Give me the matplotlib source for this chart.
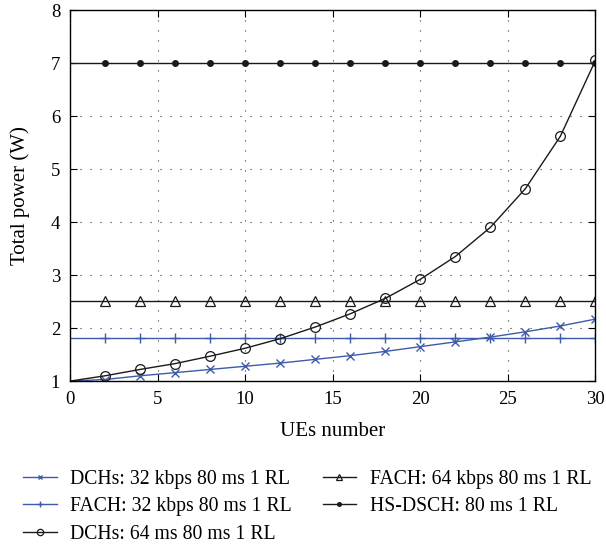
import matplotlib
matplotlib.use("Agg")
import matplotlib.pyplot as plt
import numpy as np

plt.rcParams['font.family'] = ['Liberation Serif', 'DejaVu Serif']

ues = [0, 2, 4, 6, 8, 10, 12, 14, 16, 18, 20, 22, 24, 26, 28, 30]
dch_32 = [1.0, 1.03, 1.10, 1.16, 1.22, 1.28, 1.34, 1.41, 1.48, 1.56, 1.65, 1.74, 1.83, 1.93, 2.04, 2.17]
fach_32 = [1.81] * 16
dch_64 = [1.0, 1.10, 1.22, 1.33, 1.47, 1.62, 1.80, 2.02, 2.27, 2.56, 2.92, 3.35, 3.90, 4.63, 5.62, 7.05]
fach_64 = [2.51] * 16
hsdsch = [7.0] * 16

labels = ["DCHs: 32 kbps 80 ms 1 RL", "FACH: 32 kbps 80 ms 1 RL", "DCHs: 64 ms 80 ms 1 RL",
          "FACH: 64 kbps 80 ms 1 RL", "HS-DSCH: 80 ms 1 RL"]

blue = '#3d5ba9'
black = '#1a1a1a'

fig = plt.figure(figsize=(6.06, 5.46), dpi=100)
ax = fig.add_axes([0.1155, 0.302, 0.867, 0.6795])

mk = slice(1, None)
ax.plot(ues, dch_32, color=blue, lw=1.0, marker='x', ms=5.5, mew=1.0, markevery=mk, label=labels[0])
ax.plot(ues, fach_32, color=blue, lw=1.0, marker='+', ms=7, mew=1.0, markevery=mk, label=labels[1])
ax.plot(ues, dch_64, color=black, lw=1.0, marker='o', ms=7, mfc='none', mew=0.9, markevery=mk, label=labels[2])
ax.plot(ues, fach_64, color=black, lw=1.0, marker='^', ms=7, mfc='none', mew=0.9, markevery=mk, label=labels[3])
ax.plot(ues, hsdsch, color=black, lw=1.0, marker='o', ms=4, markevery=mk, label=labels[4])

ax.set_xlim(0, 30)
ax.set_ylim(1, 8)
ax.set_xticks(np.arange(0, 31, 5))
ax.set_yticks(np.arange(1, 9, 1))
ax.grid(True, color='#333333', linestyle=(0, (1, 8)), lw=0.8)
ax.tick_params(direction='in', labelsize=13.5, length=5, top=True, right=True, pad=7)
for s in ax.spines.values():
    s.set_linewidth(1.0)
ax.set_xlabel("UEs number", fontsize=15, labelpad=10)
ax.set_ylabel("Total power (W)", fontsize=15, labelpad=15)

fig.legend(loc='upper left', bbox_to_anchor=(0.038, 0.139), ncol=2, frameon=False,
           fontsize=14.2, handlelength=1.7, columnspacing=1.55, labelspacing=0.42,
           handletextpad=0.7, borderpad=0, borderaxespad=0, markerscale=0.65)

fig.savefig("out.png", dpi=100)
